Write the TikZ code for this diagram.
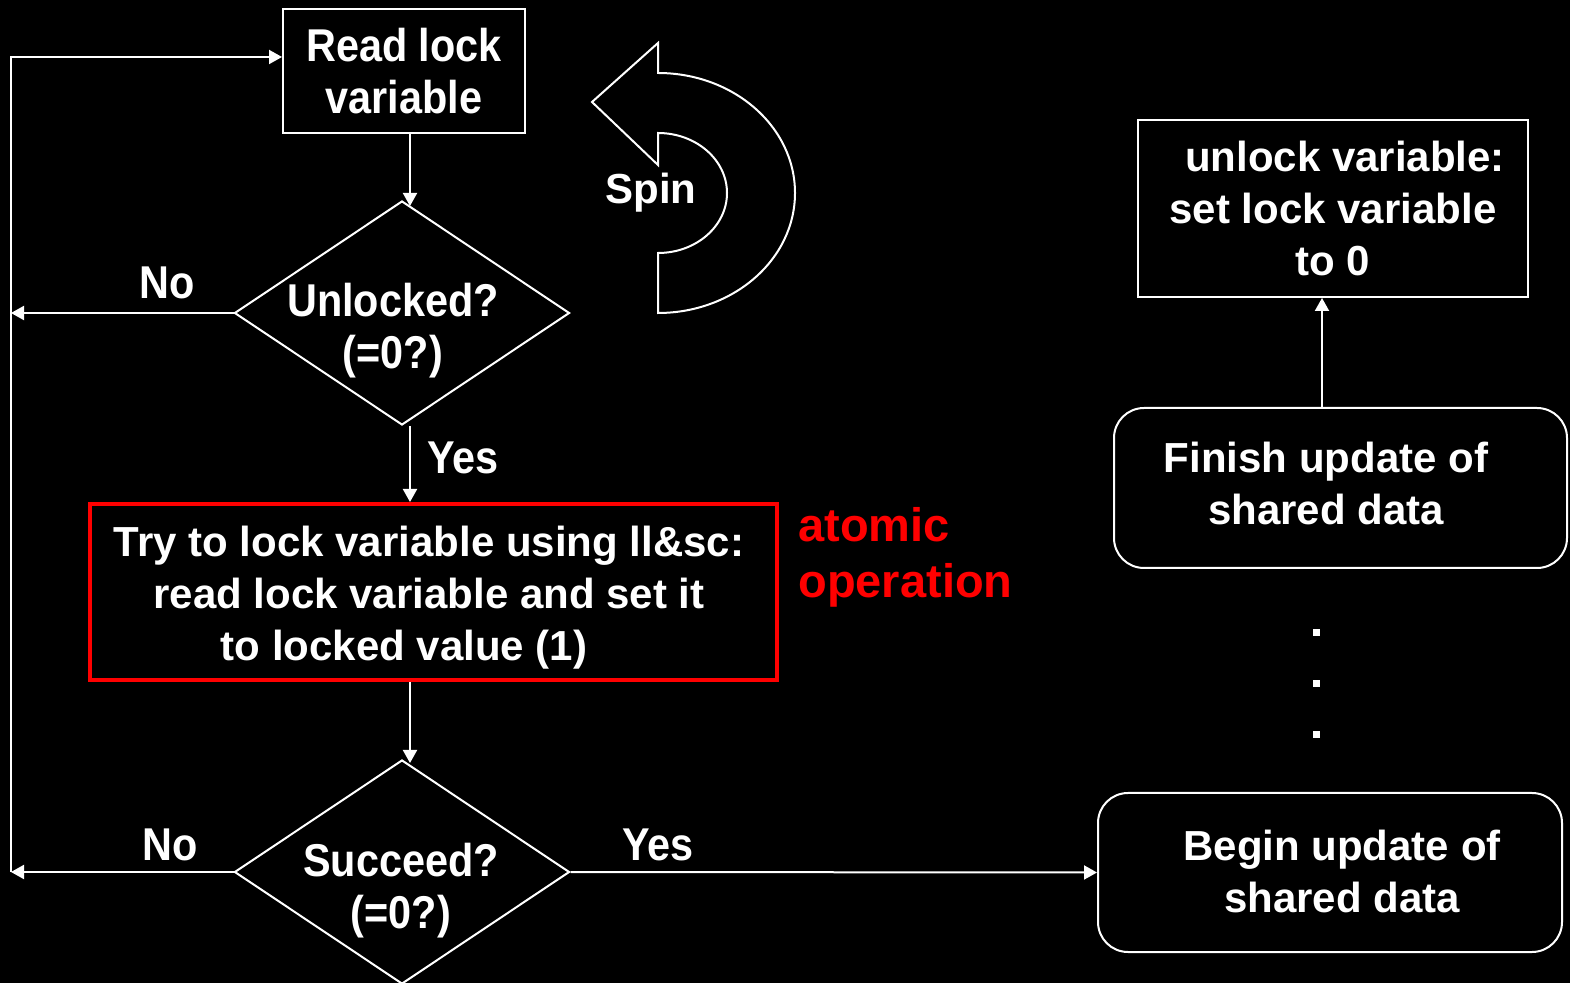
\documentclass[tikz,border=0pt]{standalone}
\usepackage{fontspec}
\setmainfont{Liberation Sans}
\newfontfamily\narrowsf{Liberation Sans}[FakeStretch=0.9]
\usetikzlibrary{arrows.meta,shapes.geometric}

\begin{document}
\begin{tikzpicture}[x=0.5pt,y=0.5pt,yscale=-1,xscale=1,
	wide/.style={text=white,font=\bfseries\fontsize{21}{26}\selectfont,align=center,inner sep=0pt},
	narrow/.style={text=white,font=\narrowsf\bfseries\fontsize{23}{26}\selectfont,align=center,inner sep=0pt},
	procbox/.style={draw=white,line width=1pt,rectangle},
	roundbox/.style={draw=white,line width=1pt,rectangle,rounded corners=15pt},
	lockbox/.style={draw=red,line width=2pt,rectangle},
	decision/.style={draw=white,line width=1pt,diamond,inner sep=0pt},
	arr/.style={draw=white,line width=1pt,-{Triangle[width=7pt,length=6.5pt]}},
	atomic/.style={text=red,font=\bfseries\fontsize{23.5}{28}\selectfont,align=left,inner sep=0pt}]
	
	%Background
	\fill[black] (0,0) rectangle (1570,983);
	\useasboundingbox (0,0) rectangle (1570,983);
	
	%Shape: Rectangle
	\node[procbox,narrow,minimum width=121pt,minimum height=62pt] (readlock) at (404,71) {Read lock\\variable};
	%Shape: Diamond
	\node[decision,minimum width=167.5pt,minimum height=112pt] (unlocked) at (402,313) {};
	\node[narrow] (unlockedtext) at (393,331) {Unlocked?\\(=0?)};
	%Shape: Rectangle
	\node[lockbox,minimum width=343.5pt,minimum height=88pt] (trylock) at (433.5,592) {};
	\node[wide] (trylocktext) at (429,598) {Try to lock variable using ll\&sc:\\read lock variable and set it\\to locked value (1)\hspace*{25pt}};
	%Shape: Diamond
	\node[decision,minimum width=167.5pt,minimum height=112pt] (succeed) at (402,872) {};
	\node[narrow] (succeedtext) at (401,891) {Succeed?\\(=0?)};
	%Shape: Rectangle
	\node[procbox,wide,minimum width=195pt,minimum height=88.5pt] (unlockvar) at (1333,208.5) {\hspace*{12pt}unlock variable:\\set lock variable\\to 0};
	%Rounded Rect
	\node[roundbox,minimum width=226.5pt,minimum height=80pt] (finish) at (1340.5,488) {};
	\node[wide] (finishtext) at (1326,483) {Finish update of\\shared data};
	%Rounded Rect
	\node[roundbox,minimum width=232pt,minimum height=79.5pt] (begin) at (1330,872.5) {};
	\node[wide] (begintext) at (1342,871) {Begin update of\\shared data};
	
	\coordinate (spine) at (410,0);
	\coordinate (upline) at (1322,0);
	\coordinate (loopbot) at (11,872);
	\coordinate (looptop) at (11,57);
	
	%Straight Lines
	\draw[arr,shorten >=-3pt] (readlock.south -| spine) -- (unlocked.north -| spine);
	%Straight Lines
	\draw[arr] (unlocked.south -| spine) -- (trylock.north -| spine);
	%Straight Lines
	\draw[arr,shorten >=-2pt] (trylock.south -| spine) -- (succeed.north -| spine);
	%Straight Lines
	\draw[arr] (succeed.east) -- (begin.west);
	%Straight Lines
	\draw[arr] (finish.north -| upline) -- (unlockvar.south -| upline);
	%Straight Lines
	\draw[arr] (unlocked.west) -- (unlocked.west -| loopbot);
	%Straight Lines
	\draw[arr] (succeed.west) -- (loopbot);
	%Straight Lines
	\draw[arr] (loopbot) -- (looptop) -- (looptop -| readlock.west);
	
	%Curve Lines
	\draw[white,line width=1pt] (658,313) arc[start angle=90,end angle=-90,x radius=137,y radius=120] -- (658,43) -- (592,102) -- (658,165) -- (658,133) arc[start angle=-90,end angle=90,x radius=69,y radius=60] -- cycle;
	
	%Dots
	\foreach \y in {633,684,735} \fill[white] (1312.5,\y-3.5) rectangle ++(7,7);
	
	\node[narrow] (nofirst) at (167,283) {No};
	\node[narrow] (yesfirst) at (463,458) {Yes};
	\node[narrow] (nosecond) at (170,845) {No};
	\node[narrow] (yessecond) at (658,845) {Yes};
	\node[wide] (spin) at (651,193) {Spin};
	\node[atomic,anchor=west] (atomicop) at (798,557) {atomic\\operation};
	
\end{tikzpicture}
\end{document}
